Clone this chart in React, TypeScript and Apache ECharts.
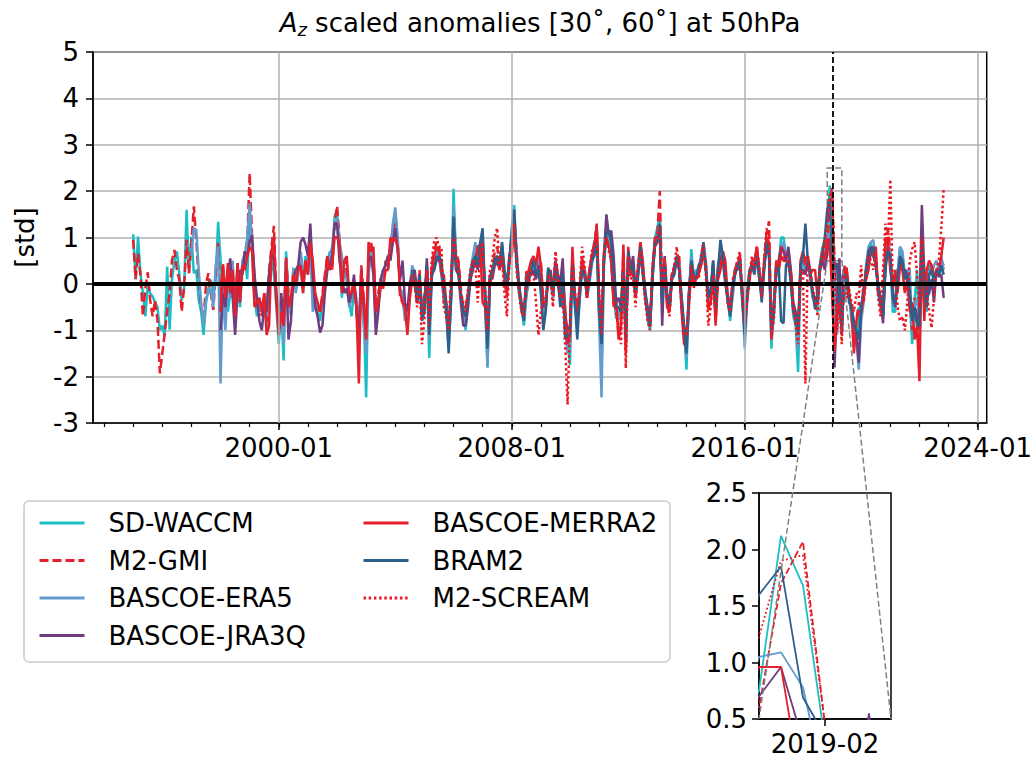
import React, { useEffect, useRef } from "react";
import * as echarts from "echarts";

const FONT = "DejaVu Sans, Liberation Sans, sans-serif";
const BASE_YEAR = 1995; // month index 0 = 1995-01

const seriesNames = ["SD-WACCM", "M2-GMI", "BASCOE-ERA5", "BASCOE-JRA3Q", "BASCOE-MERRA2", "BRAM2", "M2-SCREAM"];
const seriesColors = ["#1bbec5", "#e3202c", "#639bcf", "#6f3d7f", "#e3202c", "#2d5f8b", "#ee1620"];
const seriesStart = [0, 0, 24, 36, 36, 115, 115];

// monthly scaled anomalies, one row per year
const sdWaccm = [
  1.07, 0.1, 1.02, 0.23, -0.2, -0.7, -0.06, -0.2, -0.27, -0.4, -0.5, -0.99,
  -0.9, -1.13, 0.37, -0.99, 0.1, 0.5, 0.7, 0.23, -0.35, -0.1, 1.6, 0.23,
  1.02, 0.23, 0.3, -0.35, -0.6, -1.1, -0.42, -0.1, 0.09, -0.2, 0.09, 1.34,
  0.52, -0.3, 0.1, -0.6, -0.2, 0.3, -0.8, 0.2, -0.5, 0.3, 0.6, 0.1,
  1.5, 0.9, -0.3, -0.7, -0.4, -0.6, -0.3, -0.9, 0.2, 0.6, 0.2, -0.5,
  -1.3, -0.5, -1.65, 0.7, -0.3, -0.6, 0.2, -0.1, 0.4, 0.5, -0.2, 0.6,
  0.3, 1.1, -0.4, -0.2, -0.6, -0.8, -0.3, 0.1, 0.4, 0.7, 0.5, 1.45,
  1.6, 0.7, -0.3, 0.3, 0.1, -0.4, -0.7, -0.1, -0.3, -1.3, 0.2, -0.6,
  -2.45, 0.3, 0.8, 0.5, -0.9, -0.3, 0.0, 0.2, 0.4, 0.5, 0.8, 1.2,
  1.55, 0.9, -0.2, -0.3, -0.7, -0.9, -0.2, 0.3, 0.1, -0.3, 0.2, -0.5,
  -0.4, 0.3, -1.6, 0.2, 0.5, 0.7, 0.6, 0.2, -0.3, -0.6, -1.2, -0.4,
  2.05, 0.6, 0.4, -0.2, -0.6, -1.0, -0.4, 0.2, 0.5, 0.7, 0.5, 0.7,
  1.0, -0.3, -1.8, 0.1, 0.3, 0.6, 0.4, 0.5, 0.8, 0.2, -0.2, 0.5,
  1.2, 1.7, 0.5, -0.2, -0.5, -0.9, -0.3, 0.1, 0.3, 0.4, 0.2, 0.5,
  0.2, -0.8, -0.6, 0.3, 0.1, -0.2, 0.4, 0.1, -0.3, 0.2, -0.9, -1.2,
  -1.75, 0.6, -0.5, -0.8, -0.2, 0.5, 0.3, -0.3, 0.1, 0.5, 0.8, 1.1,
  -0.6, -1.8, 0.6, 1.3, 0.9, 0.5, -0.2, -0.75, -0.5, -0.7, 0.4, -0.9,
  0.6, 0.2, 0.4, -0.3, 0.2, 0.8, 0.3, -0.2, -0.8, -1.0, 0.2, 1.0,
  1.2, 1.5, -0.4, 0.5, -0.3, -0.5, 0.2, 0.3, 0.6, 0.4, -0.5, -1.0,
  -1.85, -0.3, 0.75, 0.1, 0.2, 0.3, 0.5, 0.8, 0.3, -0.4, -0.3, 0.3,
  -0.7, 0.3, 0.8, 0.6, 0.1, -0.3, -0.8, -0.2, 0.3, 0.4, 0.5, -0.2,
  -0.9, -0.3, 0.2, 0.5, 0.3, 0.75, 0.2, -0.3, 0.4, 1.0, 0.7, -1.4,
  -0.5, 0.5, 0.4, 1.0, 1.0, 0.6, 0.7, 0.2, -0.7, -0.9, -1.9, 0.2,
  0.5, 0.3, 0.6, 0.2, -0.3, -0.4, -0.6, 0.4, 0.8, 0.4, 0.75, 2.12,
  1.68, 0.3, -0.9, -0.6, 0.2, -0.3, 0.3, -0.2, -0.8, -1.0, -1.3, -0.5,
  -0.6, -0.3, 0.4, 0.8, 0.9, 0.6, 0.5, -0.1, -0.4, -0.7, 0.4, 0.9,
  0.6, -0.6, -0.6, 0.2, 0.8, 0.6, 0.1, 0.3, -0.3, -1.3, -0.4, 0.3,
  -1.0, 0.8, 0.3, -0.6, 0.4, 0.3, 0.1, 0.2, 0.4, 0.3, 0.2,
];

const m2Gmi = [
  0.95, 0.1, 0.65, 0.2, -0.7, -0.1, 0.25, -0.35, -0.7, -0.35, -0.78, -1.93,
  -1.5, -1.06, -0.6, -0.2, 0.52, 0.73, 0.3, 0.09, -0.6, -0.06, 0.95, 0.23,
  0.9, 1.67, 0.95, 0.09, -0.49, -0.78, 0.0, 0.23, -0.2, -0.56, 0.2, 0.88,
  -0.5, 0.45, -0.5, 0.2, -0.3, 0.4, -0.6, 0.45, -0.3, 0.4, 0.7, 0.9,
  2.39, 1.0, 0.1, -0.5, -0.3, -0.7, -0.2, -0.8, 0.3, 0.8, 1.25, -0.3,
  -0.8, -0.3, -1.0, 0.6, -0.2, -0.5, 0.3, 0.0, 0.3, 0.6, 0.1, 0.5,
  0.4, 1.0, 0.1, -0.3, -0.5, -0.6, -0.2, 0.2, 0.6, 0.5, 0.3, 1.3,
  1.68, 1.0, -0.1, 0.5, 0.3, -0.3, -0.4, 0.1, -0.5, -1.5, 0.4, -0.3,
  -1.3, 0.5, 0.9, 0.6, -0.5, -0.2, 0.1, 0.0, 0.5, 0.3, 0.9, 1.1,
  1.5, 1.0, -0.3, -0.4, -0.6, -0.8, -0.1, 0.2, 0.0, -0.4, 0.3, -0.6,
  -0.3, 0.4, -1.0, 0.4, 0.7, 0.9, 0.8, 0.4, -0.4, -0.5, -0.9, -0.2,
  1.5, 0.7, 0.5, -0.1, -0.5, -0.8, -0.3, 0.3, 0.4, 0.6, 0.7, 0.8,
  0.8, -0.2, -1.3, 0.2, 0.3, 0.7, 0.8, 0.4, 0.7, 0.1, -0.3, 0.6,
  1.0, 1.4, 0.7, 0.0, -0.6, -0.7, -0.2, 0.2, 0.4, 0.5, 0.3, 0.4,
  0.5, -0.4, -0.5, 0.2, 0.2, -0.3, 0.5, 0.0, -0.2, -0.5, -0.6, -1.3,
  -1.0, 0.6, -0.3, -0.6, -0.2, 0.6, 0.2, -0.2, 0.2, 0.6, 0.9, 1.2,
  -0.4, -1.0, 0.5, 1.2, 0.8, 0.6, -0.4, -0.5, -1.1, -0.9, 0.7, -1.4,
  0.7, 0.3, 0.3, -0.2, 0.3, 0.9, 0.4, -0.3, -0.7, -0.9, 0.3, 0.9,
  1.1, 2.0, -0.2, 0.5, -0.4, -0.6, 0.1, 0.3, 0.5, 0.6, -0.4, -0.9,
  -1.4, -0.2, 0.5, 0.0, 0.2, 0.2, 0.5, 0.8, 0.4, -0.6, -0.3, 0.4,
  -0.8, 0.2, 0.6, 0.7, 0.2, -0.4, -0.6, -0.1, 0.3, 0.5, 0.6, -0.3,
  -0.8, -0.2, 0.1, 0.4, 0.4, 0.8, 0.3, -0.2, 0.5, 1.1, 1.35, -1.0,
  -0.6, 0.4, 0.3, 0.7, 0.6, 0.5, 0.6, 0.3, -0.5, -0.7, -1.2, 0.4,
  0.6, 0.4, 0.5, 0.3, -0.2, -0.5, -0.4, 0.3, 0.7, 1.0, 0.6, 1.7,
  2.07, 0.45, -0.5, 0.3, -0.4, 0.4, 0.2, -0.3, -0.5, -1.0, -0.8, -0.4,
  -0.5, -0.2, 0.3, 0.5, 0.7, 0.6, 0.6, -0.2, -0.5, -0.6, 0.6, 1.2,
  0.7, -0.3, -0.4, 0.3, 0.5, 0.4, -0.2, 0.2, -0.4, -1.0, -0.3, -0.5,
  -1.3, 0.6, 0.2, -0.4, 0.3, 0.4, 0.0, 0.3, 0.2, 0.5, 0.4,
];

const bascoeEra5 = [
  0.6, 1.2, 1.17, 0.3, -0.4, -0.9, -0.3, -0.2, -0.1, -0.5, 0.4, 0.8,
  -2.15, 0.0, -1.0, 0.1, -0.3, 0.5, -0.9, 0.2, -0.4, 0.5, 0.6, 1.0,
  1.74, 0.8, -0.4, -0.3, -0.6, -0.4, -0.5, -0.7, 0.1, 0.5, 0.6, -0.4,
  -1.0, -0.4, -1.3, 0.5, -0.4, -0.7, 0.35, -0.2, 0.2, 0.7, 0.3, 0.4,
  0.2, 0.9, -0.6, -0.3, -0.5, -0.5, -0.4, 0.0, 0.3, 0.6, 0.8, 1.3,
  1.4, 0.9, 0.6, 0.2, 0.1, -0.5, -0.3, 0.0, -0.4, -0.8, 0.1, -0.9,
  -1.5, 0.2, 0.7, 0.4, -0.8, -0.5, -0.1, 0.3, 0.4, 0.6, 0.7, 1.3,
  1.65, 1.0, -0.1, -0.2, -0.8, -0.7, 0.0, 0.4, 0.2, -0.3, 0.1, -0.5,
  -0.6, 0.3, -1.2, 0.1, 0.4, 0.7, 0.6, 0.3, -0.2, -0.6, -1.4, -0.3,
  1.7, 0.5, 0.3, -0.3, -0.5, -0.8, -0.2, 0.3, 0.6, 0.9, 0.4, 0.6,
  1.0, -0.4, -1.8, 0.0, 0.2, 0.5, 0.6, 0.5, 0.7, 0.3, -0.1, 0.4,
  1.1, 1.6, 0.4, -0.1, -0.5, -0.8, -0.2, 0.0, 0.3, 0.4, 0.1, 0.6,
  0.3, -0.7, -0.5, 0.3, 0.0, -0.3, 0.3, 0.2, -0.2, 0.1, -1.0, -1.5,
  -1.4, 0.5, -0.4, -0.9, -0.3, 0.4, 0.3, -0.3, 0.0, 0.4, 0.7, 1.0,
  -0.8, -2.45, 0.4, 1.2, 0.9, 0.4, -0.3, -0.6, -0.6, -0.8, 0.4, -1.1,
  0.5, 0.2, 0.5, -0.3, 0.1, 0.7, 0.4, -0.1, -0.6, -0.9, 0.1, 0.9,
  1.0, 1.3, -0.5, 0.4, -0.3, -0.5, 0.2, 0.2, 0.5, 0.4, -0.4, -1.1,
  -1.6, -0.4, 0.6, 0.1, 0.3, 0.3, 0.6, 0.9, 0.5, -0.4, -0.2, 0.4,
  -0.6, 0.3, 0.7, 0.6, 0.2, -0.2, -0.7, -0.3, 0.2, 0.4, 0.5, -0.2,
  -1.4, -0.4, 0.2, 0.4, 0.3, 0.7, 0.1, -0.3, 0.3, 0.9, 0.8, -1.2,
  -0.7, 0.4, 0.5, 0.8, 0.9, 0.5, 0.6, 0.1, -0.6, -0.8, -1.4, 0.3,
  0.4, 0.3, 0.5, 0.1, -0.3, -0.3, -0.5, 0.3, 0.6, 0.5, 1.05, 1.09,
  0.78, -0.1, -1.1, -0.5, 0.1, -0.4, 0.2, -0.3, -0.6, -0.9, -1.2, -1.85,
  -0.8, -0.4, 0.3, 0.6, 0.9, 0.95, 0.5, -0.2, -0.5, -0.6, 0.5, 0.9,
  0.7, -0.4, -0.3, 0.2, 0.8, 0.7, 0.2, 0.3, 0.3, -0.9, -0.5, -0.3,
  -0.8, 0.7, 0.2, -0.5, 0.3, 0.2, 0.4, 0.5, 0.3, 0.6, 0.3,
];

const bascoeJra3q = [
  -1.0, -0.2, -0.5, 0.2, 0.55, -0.3, -1.1, -0.2, 0.3, 0.2, 0.7, 0.6,
  0.9, 1.05, 0.2, -0.3, -0.8, -1.0, -0.5, -0.6, 0.2, 0.7, 0.5, -0.2,
  -0.7, -0.2, -0.9, 0.3, -1.2, -0.8, 0.1, 0.3, 0.4, 0.9, 1.0, 0.85,
  0.6, 1.3, 0.2, -0.5, -0.7, -1.05, -0.9, -0.2, 0.3, 0.4, 0.6, 1.3,
  1.3, 0.5, 0.2, -0.2, -0.1, -0.4, -0.2, 0.2, -0.6, -1.0, 0.3, -0.5,
  -0.9, 0.5, 0.6, 0.2, -1.1, -0.6, 0.1, 0.3, 0.4, 0.6, 0.5, 0.9,
  1.2, 0.7, 0.1, 0.5, -0.4, -0.6, 0.0, 0.2, 0.3, -0.2, 0.1, -0.7,
  -0.5, 0.55, -0.8, 0.2, 0.3, 0.6, 0.5, 0.4, -0.1, -0.4, -1.0, -0.1,
  1.2, 0.3, 0.2, -0.4, -0.9, -0.9, -0.5, 0.1, 0.3, 0.5, 0.3, 0.6,
  0.8, -0.1, -1.2, 0.2, 0.1, 0.4, 0.5, 0.3, 0.6, 0.2, 0.0, 0.5,
  0.9, 1.3, 0.5, 0.0, -0.4, -0.6, -0.1, 0.2, 0.2, 0.3, 0.1, 0.4,
  0.2, -0.5, -0.4, 0.1, 0.2, -0.1, 0.5, 0.2, 0.0, 0.55, -0.7, -1.0,
  -0.9, 0.4, -0.2, -0.7, -0.1, 0.3, 0.3, -0.1, 0.3, 0.6, 0.8, 1.25,
  -0.5, -1.0, 0.6, 1.5, 1.05, 1.15, 0.6, -0.4, -0.3, -0.5, 0.3, -0.9,
  0.4, 0.3, 0.6, -0.1, 0.2, 0.6, 0.3, -0.2, -0.5, -0.8, 0.2, 0.8,
  0.9, 1.1, -0.9, 0.6, -0.2, -0.4, 0.1, 0.4, 0.5, 0.3, -0.3, -0.9,
  -1.2, -0.3, 0.4, 0.0, 0.1, 0.3, 0.4, 0.7, 0.3, -0.3, -0.2, 0.5,
  -0.5, 0.4, 0.6, 0.5, 0.0, -0.3, -0.4, 0.0, 0.3, 0.3, 0.4, -0.1,
  -0.9, -0.3, 0.3, 0.3, 0.4, 0.6, 0.1, -0.2, 0.4, 0.8, 0.6, -0.9,
  -0.4, 0.2, 0.5, 0.8, 0.7, 0.5, 0.8, 0.3, -0.4, -0.6, -1.0, 0.3,
  0.3, 0.2, 0.5, 0.2, -0.2, -0.3, -0.4, 0.3, 0.5, 0.3, 0.7, 0.96,
  0.3, -1.8, -0.5, 0.55, -1.1, 0.35, 0.2, -0.3, -0.5, -0.8, -1.1, -1.7,
  -0.5, -0.2, 0.3, 0.7, 0.8, 0.6, 0.4, 0.0, -0.3, -0.85, 0.3, 0.8,
  0.5, -0.3, -0.5, 0.1, 0.5, 0.3, 0.3, 0.2, -0.2, -0.7, -0.6, -0.8,
  -0.6, 1.7, 0.2, -0.3, -0.2, 0.1, -0.4, 0.3, 0.15, 0.2, -0.3,
];

const bascoeMerra2 = [
  -0.6, 0.4, -0.3, 0.45, -0.2, 0.3, -0.7, 0.45, -0.4, 0.4, 0.3, 0.6,
  0.8, 0.7, -0.5, -0.4, -0.3, -0.6, -0.2, -1.1, -0.9, 0.7, 1.0, -0.4,
  -1.1, -0.6, -0.9, 0.5, -0.5, -0.3, 0.2, 0.0, 0.3, 0.4, -0.2, 0.5,
  0.2, 0.9, 0.5, -0.2, -0.4, -0.6, -0.3, 0.1, 0.6, 0.3, 0.4, 1.0,
  1.0, 0.9, -0.2, 0.5, 0.6, -0.2, -0.2, 0.0, -0.5, -2.15, 0.3, -0.4,
  -1.2, 0.9, 0.7, 0.8, -0.6, -0.4, 0.0, -0.1, 0.3, 0.3, 1.0, 0.9,
  1.0, 0.8, -0.2, -0.4, -0.5, -1.1, -0.3, 0.1, 0.2, -0.4, 0.0, -0.6,
  -0.5, 0.4, -1.0, 0.3, 0.6, 0.8, 0.7, 0.2, 0.2, -0.4, -1.1, -0.2,
  1.2, 0.5, 0.5, -0.3, -0.5, -0.5, -0.2, 0.1, 0.5, 0.5, 0.8, 0.85,
  -0.4, -0.5, -1.2, 0.0, 0.2, 0.5, 0.6, 0.3, 0.85, 0.1, -0.2, 0.6,
  0.6, 1.2, 0.5, -0.1, -0.5, -0.6, 0.0, 0.3, 0.5, 0.6, 0.4, 0.8,
  0.4, -0.4, -0.5, 0.1, 0.3, -0.2, 0.3, 0.0, -0.3, 0.1, -0.5, -1.3,
  -1.1, 0.8, -0.3, -0.6, -0.1, 0.5, 0.2, -0.3, 0.3, 0.6, 0.7, 1.3,
  -0.3, -1.2, 0.7, 1.0, 0.8, 0.6, -0.5, -0.3, -1.2, -0.9, 0.85, -1.5,
  0.8, 0.2, 0.3, -0.3, 0.3, 0.9, 0.5, -0.3, -0.6, -0.8, 0.3, 1.0,
  1.0, 1.2, -0.3, 0.55, -0.5, -0.6, 0.2, 0.3, 0.5, 0.4, -0.6, -1.3,
  -1.3, -0.5, 0.3, 0.0, 0.15, 0.2, 0.4, 0.7, 0.4, -0.5, -0.4, 0.3,
  -0.9, 0.1, 0.3, 0.7, 0.5, -0.3, -0.6, -0.1, 0.3, 0.4, 0.6, -0.3,
  -1.0, -0.3, 0.1, 0.5, 0.5, 0.8, 0.3, -0.2, 0.4, 1.0, 0.9, -1.2,
  -0.5, 0.5, 0.3, 0.6, 0.5, 0.5, 0.4, 0.2, -0.5, -0.8, -1.0, 0.5,
  0.7, 0.5, 0.6, 0.2, 0.3, 0.3, -0.3, 0.4, 0.7, 0.5, 0.96, 0.96,
  -0.2, -1.45, -0.7, -0.3, -1.0, 0.3, 0.35, -0.2, -0.6, -1.5, -0.8, -0.6,
  -0.6, -0.3, 0.1, 0.3, 0.7, 0.6, 0.8, -0.2, -0.4, -0.6, 1.0, 0.9,
  0.3, -0.1, 0.3, -0.2, 0.4, 0.3, -0.2, 0.1, -0.6, -0.4, -1.2, -0.9,
  -2.1, 0.95, -0.8, 0.3, 0.5, 0.4, 0.2, 0.2, 0.2, 0.6, 1.0,
];

const bram2 = [
  0.3, 0.1, -0.4, 0.2, -0.8,
  -0.6, 0.4, -1.1, 0.2, 0.3, 0.5, 0.6, 0.5, -0.1, -0.5, -1.5, -0.3,
  1.45, 0.4, 0.3, -0.2, -0.6, -0.7, -0.3, 0.2, 0.5, 0.6, 0.4, 0.9,
  1.2, -0.2, -1.4, 0.1, 0.3, 0.5, 0.6, 0.4, 0.9, 0.3, 0.0, 0.5,
  1.1, 1.6, 0.6, -0.1, -0.5, -0.8, 0.2, 0.1, 0.3, 0.5, 0.2, 0.3,
  -0.2, -1.0, -0.6, 0.35, 0.2, -0.2, 0.3, 0.1, -0.5, 0.2, -1.2, -1.1,
  -1.1, 0.4, -0.4, -1.2, -0.3, 0.3, 0.2, -0.2, 0.1, 0.5, 0.6, 0.9,
  -0.6, -1.3, 0.5, 1.1, 1.15, 0.9, 0.2, -0.5, -0.5, -0.6, 0.3, -1.2,
  0.7, 0.3, 0.4, -0.2, 0.2, 0.8, 0.2, -0.2, -0.6, -0.9, 0.1, 0.9,
  0.9, 1.3, -0.4, 0.4, -0.3, -0.5, 0.1, 0.2, 0.6, 0.3, -0.3, -1.0,
  -1.5, -0.2, 0.5, 0.2, 0.1, 0.4, 0.5, 0.9, 0.3, -0.3, -0.1, 0.5,
  -0.6, 0.3, 0.95, 0.6, 0.1, -0.4, -0.7, -0.1, 0.2, 0.4, 0.5, -0.4,
  -1.1, -0.2, 0.3, 0.4, 0.2, 0.6, 0.2, -0.4, 0.3, 0.9, 0.7, -1.0,
  -0.6, 0.3, 0.4, -0.8, -0.85, 0.4, 0.5, 0.0, -0.6, -0.7, -1.1, 0.4,
  0.6, 1.3, 0.5, 0.3, -0.2, -0.55, -0.3, 0.4, 0.6, 1.0, 1.6, 1.85,
  0.69, 0.35, 0.45, -0.4, -1.0, 0.2, 0.1, -0.4, -0.5, -0.9, -1.0, -1.2,
  -0.5, -0.1, 0.2, 0.5, 0.7, 0.8, 0.4, -0.1, -0.4, -0.7, 0.4, 0.7,
  0.6, -0.2, -0.4, 0.1, 0.6, 0.5, 0.1, 0.2, -0.2, -0.8, -0.5, -0.9,
  -0.9, 0.9, 0.0, -0.5, 0.2, 0.3, 0.0, 0.3, 0.2, 0.4, 0.2,
];

const m2Scream = [
  0.2, 0.0, -0.5, 0.1, -1.3,
  -0.8, 0.3, -0.9, 0.5, 0.9, 1.0, 0.8, 0.8, -0.5, -0.7, -1.0, 0.2,
  1.0, 0.6, 0.3, -0.2, -0.4, -0.6, -0.1, 0.3, 0.5, 0.4, -0.4, 0.7,
  0.9, -0.4, -1.0, 0.3, 0.5, 1.0, 1.2, 0.3, 0.6, -0.2, -0.7, 0.4,
  0.9, 1.3, 0.3, -0.2, -0.6, -0.7, 0.3, 0.0, 0.3, 0.2, -0.4, -1.1,
  -0.6, -0.3, -0.4, 0.2, 0.1, -0.5, 0.7, 0.2, -0.3, -0.2, -1.3, -2.6,
  -0.9, 0.5, -0.2, -0.5, 0.0, 0.8, 0.4, -0.3, 0.2, 0.7, 0.8, 1.0,
  -0.2, -1.1, 0.6, 1.0, 0.7, 0.5, -0.3, -0.6, -0.9, -1.3, 0.5, -1.82,
  0.6, 0.1, 0.2, -0.5, 0.4, 0.7, 0.2, -0.4, -0.8, -1.0, 0.4, 0.8,
  1.0, 1.2, -0.1, 0.4, -0.4, -0.7, 0.2, 0.4, 0.8, 0.3, -0.5, -1.1,
  -1.1, -0.3, 0.4, -0.1, 0.2, 0.1, 0.6, 0.85, 0.2, -0.9, -0.5, 0.2,
  -0.7, 0.2, 0.4, 0.5, 0.3, -0.4, -0.6, 0.1, 0.2, 0.5, 0.7, -0.2,
  -0.8, -0.4, 0.2, 0.6, 0.3, 0.7, 0.4, -0.3, 0.5, 1.2, 1.0, -1.1,
  -0.8, 0.3, 0.4, 0.8, 0.7, 0.6, 0.5, 0.2, -0.5, -0.9, -1.3, 0.3,
  0.2, -2.15, 0.6, 0.3, -0.1, -0.3, -0.7, 0.3, 0.6, 0.9, 1.23, 1.9,
  1.95, 0.45, -1.0, -0.4, -1.3, 0.3, -0.3, -0.1, -0.4, -0.6, -0.2, -0.3,
  0.4, -0.4, 0.1, 0.6, 0.5, 0.3, 0.7, -0.3, -0.7, 0.3, 1.3, 0.8,
  2.25, 0.0, 0.2, -0.5, -0.8, -0.7, -1.0, -0.4, 0.5, 0.75, 0.9, 0.2,
  -0.5, 1.0, 0.2, -0.2, -0.6, -0.95, -0.3, 0.3, 0.5, 1.2, 2.05,
];

const seriesValues = [sdWaccm, m2Gmi, bascoeEra5, bascoeJra3q, bascoeMerra2, bram2, m2Scream];

// axes
const X_MIN = 1993.62;
const X_MAX = 2024.31;
const xMajorTicks = [2000, 2008, 2016, 2024];
const xMinorTicks = [1994, 1995, 1996, 1997, 1998, 1999, 2000, 2001, 2002, 2003, 2004, 2005, 2006, 2007, 2008, 2009, 2010, 2011, 2012, 2013, 2014, 2015, 2016, 2017, 2018, 2019, 2020, 2021, 2022, 2023, 2024];
const Y_MIN = -3;
const Y_MAX = 5;
const eventLine = 2019.04;
const INSET_X_MIN = 2018 + 10 / 12;
const INSET_X_MAX = 2019 + 4 / 12;
const INSET_Y_MIN = 0.5;
const INSET_Y_MAX = 2.5;
const insetTicks = [2019 + 1 / 12];

const mainDash: any[] = ["solid", [9, 4], "solid", "solid", "solid", "solid", [2.5, 2.7]];
const insetDash: any[] = ["solid", [6.5, 3], "solid", "solid", "solid", "solid", [1.8, 2.5]];

function toPoints(start: number, values: number[]) {
  return values.map((v, i) => [BASE_YEAR + (start + i) / 12, v]);
}

function fmtMonth(v: number) {
  const y = Math.floor(v + 1e-6);
  const m = Math.round((v - y) * 12) + 1;
  return `${y}-${String(m).padStart(2, "0")}`;
}

const MAIN = { left: 93, top: 52, width: 894, height: 371 };
const INSET = { left: 759, top: 493, width: 132, height: 226 };

function buildOption() {
  const txt = { color: "#000", fontFamily: FONT, fontSize: 26 };
  const series: any[] = [];
  // vertical grid lines (under data)
  series.push({
    type: "line",
    xAxisIndex: 0,
    yAxisIndex: 0,
    data: [],
    z: 1,
    silent: true,
    markLine: {
      silent: true,
      symbol: ["none", "none"],
      label: { show: false },
      animation: false,
      lineStyle: { color: "#b0b0b0", width: 1.5, type: "solid" },
      data: xMajorTicks.map((v) => ({ xAxis: v })),
    },
  });
  seriesNames.forEach((name, i) => {
    series.push({
      name,
      type: "line",
      xAxisIndex: 0,
      yAxisIndex: 0,
      data: toPoints(seriesStart[i], seriesValues[i]),
      symbol: "none",
      showSymbol: false,
      clip: true,
      z: 2,
      lineStyle: { color: seriesColors[i], width: 2.5, type: mainDash[i] },
      itemStyle: { color: seriesColors[i] },
    });
  });
  seriesNames.forEach((name, i) => {
    series.push({
      name,
      type: "line",
      xAxisIndex: 2,
      yAxisIndex: 1,
      data: toPoints(seriesStart[i], seriesValues[i]).filter((p) => p[0] > INSET_X_MIN - 0.2 && p[0] < INSET_X_MAX + 0.2),
      symbol: "none",
      showSymbol: false,
      clip: true,
      z: 2,
      lineStyle: { color: seriesColors[i], width: 1.8, type: insetDash[i] },
      itemStyle: { color: seriesColors[i] },
    });
  });
  // overlay: zero line, event line, zoom rectangle
  series.push({
    type: "line",
    xAxisIndex: 0,
    yAxisIndex: 0,
    data: [],
    z: 6,
    silent: true,
    markLine: {
      silent: true,
      symbol: ["none", "none"],
      label: { show: false },
      animation: false,
      data: [
        { yAxis: 0, lineStyle: { color: "#000", width: 4, type: "solid" } },
        { xAxis: eventLine, lineStyle: { color: "#000", width: 1.8, type: [6, 3] } },
      ],
    },
    markArea: {
      silent: true,
      animation: false,
      itemStyle: { color: "rgba(0,0,0,0)", borderColor: "#808080", borderWidth: 1.5, borderType: [6, 3] },
      data: [[{ xAxis: INSET_X_MIN, yAxis: INSET_Y_MIN }, { xAxis: INSET_X_MAX, yAxis: INSET_Y_MAX }]],
    },
  });

  const legendCommon = {
    orient: "vertical",
    itemWidth: 45,
    itemHeight: 14,
    itemGap: 11.5,
    selectedMode: false,
    z: 5,
    itemStyle: { opacity: 0 },
    lineStyle: { width: 3 },
    formatter: (name: string) => `{t|${name}}`,
    textStyle: {
      ...txt,
      rich: { t: { fontSize: 26, fontFamily: FONT, color: "#000", lineHeight: 28, padding: [0, 0, 0, 19] } },
    },
  };

  return {
    animation: false,
    backgroundColor: "#fff",
    grid: [
      { ...MAIN, show: true, borderColor: "#000", borderWidth: 1.5, backgroundColor: "transparent", containLabel: false },
      { ...INSET, show: true, borderColor: "#000", borderWidth: 1.5, backgroundColor: "#fff", containLabel: false },
    ],
    legend: [
      { ...legendCommon, left: 33, top: 505, data: seriesNames.slice(0, 4) },
      { ...legendCommon, left: 357, top: 505, data: seriesNames.slice(4) },
    ],
    xAxis: [
      {
        type: "value",
        gridIndex: 0,
        min: X_MIN,
        max: X_MAX,
        position: "bottom",
        axisLine: { show: true, onZero: false, lineStyle: { color: "#000", width: 1.5 } },
        axisTick: { show: true, customValues: xMajorTicks, length: 7, lineStyle: { color: "#000", width: 1.5 } },
        axisLabel: { ...txt, customValues: xMajorTicks, margin: 12, formatter: (v: number) => `${Math.round(v)}-01` },
        splitLine: { show: false },
      },
      {
        type: "value",
        gridIndex: 0,
        min: X_MIN,
        max: X_MAX,
        position: "bottom",
        axisLine: { show: false, onZero: false },
        axisTick: { show: true, customValues: xMinorTicks, length: 4, lineStyle: { color: "#000", width: 1.2 } },
        axisLabel: { show: false },
        splitLine: { show: false },
      },
      {
        type: "value",
        gridIndex: 1,
        min: INSET_X_MIN,
        max: INSET_X_MAX,
        position: "bottom",
        axisLine: { show: true, onZero: false, lineStyle: { color: "#000", width: 1.5 } },
        axisTick: { show: true, customValues: insetTicks, length: 7, lineStyle: { color: "#000", width: 1.5 } },
        axisLabel: { ...txt, customValues: insetTicks, margin: 12, formatter: (v: number) => fmtMonth(v) },
        splitLine: { show: false },
      },
    ],
    yAxis: [
      {
        type: "value",
        gridIndex: 0,
        min: Y_MIN,
        max: Y_MAX,
        interval: 1,
        name: "[std]",
        nameLocation: "middle",
        nameGap: 55,
        nameTextStyle: { ...txt },
        axisLine: { show: true, onZero: false, lineStyle: { color: "#000", width: 1.5 } },
        axisTick: { show: true, length: 7, lineStyle: { color: "#000", width: 1.5 } },
        axisLabel: { ...txt, margin: 14 },
        splitLine: { show: true, lineStyle: { color: "#b0b0b0", width: 1.5 } },
      },
      {
        type: "value",
        gridIndex: 1,
        min: INSET_Y_MIN,
        max: INSET_Y_MAX,
        interval: 0.5,
        axisLine: { show: true, onZero: false, lineStyle: { color: "#000", width: 1.5 } },
        axisTick: { show: true, length: 7, lineStyle: { color: "#000", width: 1.5 } },
        axisLabel: { ...txt, margin: 12, formatter: (v: number) => v.toFixed(1) },
        splitLine: { show: false },
      },
    ],
    series,
  };
}

export default function App() {
  const ref = useRef<HTMLDivElement>(null);
  useEffect(() => {
    document.body.style.margin = "0";
    const el = ref.current!;
    const chart = echarts.init(el, null, { renderer: "svg" });
    chart.setOption(buildOption() as any);
    const a = chart.convertToPixel({ gridIndex: 0 } as any, [INSET_X_MIN, INSET_Y_MIN]) as any;
    const b = chart.convertToPixel({ gridIndex: 0 } as any, [INSET_X_MAX, INSET_Y_MIN]) as any;
    const c = chart.convertToPixel({ gridIndex: 1 } as any, [INSET_X_MIN, INSET_Y_MIN]) as any;
    const d = chart.convertToPixel({ gridIndex: 1 } as any, [INSET_X_MAX, INSET_Y_MIN]) as any;
    const connStyle = { stroke: "#808080", lineWidth: 1.5, lineDash: [6, 3] };
    chart.setOption({
      graphic: {
        elements: [
          {
            type: "text",
            x: (MAIN.left + MAIN.left + MAIN.width) / 2,
            y: 23,
            z: 10,
            style: {
              text: "{a|A}{s|z}{t| scaled anomalies [30˚, 60˚] at 50hPa}",
              align: "center",
              verticalAlign: "middle",
              fill: "#000",
              rich: {
                a: { fontSize: 26, fontFamily: FONT, fontStyle: "italic", fill: "#000", lineHeight: 30 },
                s: { fontSize: 18, fontFamily: FONT, fontStyle: "italic", fill: "#000", lineHeight: 16, verticalAlign: "bottom" },
                t: { fontSize: 26, fontFamily: FONT, fill: "#000", lineHeight: 30 },
              },
            },
          },
          {
            type: "rect",
            z: 0,
            shape: { x: 24, y: 501, width: 646, height: 161, r: 5 },
            style: { fill: "rgba(255,255,255,0.8)", stroke: "#cccccc", lineWidth: 1.5 },
          },
          { type: "line", z: 100, silent: true, shape: { x1: a[0], y1: a[1], x2: c[0], y2: c[1] }, style: connStyle },
          { type: "line", z: 100, silent: true, shape: { x1: b[0], y1: b[1], x2: d[0], y2: d[1] }, style: connStyle },
        ],
      },
    } as any);
    return () => chart.dispose();
  }, []);
  return <div ref={ref} style={{ position: "absolute", left: 0, top: 0, width: 1035, height: 767 }} />;
}
